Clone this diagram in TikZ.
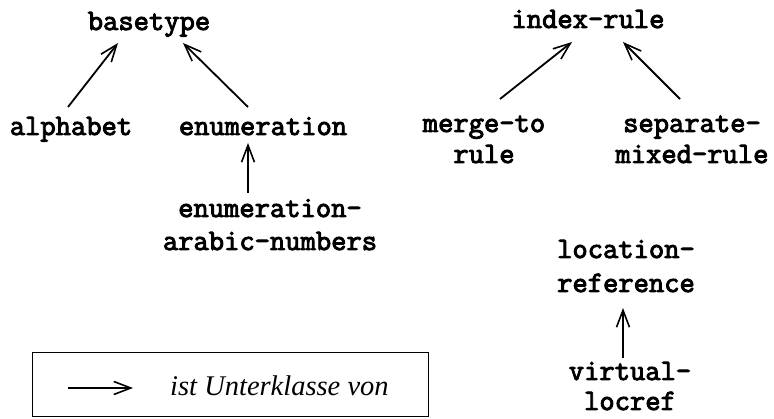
\documentclass[tikz,border=0pt]{standalone}
\usepackage{fontspec}
\setmainfont{Liberation Serif}
\setmonofont{Latin Modern Mono}[AutoFakeBold=3.2]
\usetikzlibrary{arrows.meta}

% class names: bold typewriter; two-line names as top-aligned tabulars
\newcommand{\cls}[2][32]{\fontsize{29.7}{#1}\selectfont\ttfamily\bfseries
  \begin{tabular}[t]{@{}c@{}}#2\end{tabular}}

\begin{document}
\begin{tikzpicture}[x=1pt,y=1pt,
  classname/.style={inner sep=0pt,anchor=base},
  isa/.style={line width=1.8pt,
    -{Straight Barb[length=17pt,width=13pt,line width=1.6pt]}},
  legendbox/.style={draw,line width=1.1pt}]
\useasboundingbox (0,0) rectangle (774,418);

% left hierarchy
\node[classname] (basetype)    at (149,388) {\cls{basetype}};
\node[classname] (alphabet)    at (71,283)  {\cls{alphabet}};
\node[classname] (enumeration) at (263,283) {\cls{enumeration}};
\node[classname] (enumarabic)  at (270,201) {\cls[33]{enumeration-\\arabic-numbers}};

% right hierarchy
\node[classname] (indexrule)   at (588,390) {\cls{index-rule}};
\node[classname] (mergeto)     at (484,286) {\cls[31]{merge-to\\rule}};
\node[classname] (separate)    at (692,286) {\cls[31]{separate-\\mixed-rule}};

\node[classname] (locref)      at (626,160) {\cls[34]{location-\\reference}};
\node[classname] (virtual)     at (630,38)  {\cls[30]{virtual-\\locref}};

% subclass arrows
\draw[isa] ([shift={(-3,28)}]alphabet.base)     -- ([shift={(-31,-13)}]basetype.base);
\draw[isa] ([shift={(-15,28)}]enumeration.base) -- ([shift={(34,-13)}]basetype.base);
\draw[isa] ([shift={(-22,24)}]enumarabic.base)  -- ([shift={(-15,-8)}]enumeration.base);
\draw[isa] ([shift={(16,33)}]mergeto.base)      -- ([shift={(-16,-14)}]indexrule.base);
\draw[isa] ([shift={(-12,33)}]separate.base)    -- ([shift={(35,-14)}]indexrule.base);
\draw[isa] ([shift={(-7,22)}]virtual.base)      -- ([shift={(-3,-50)}]locref.base);

% legend
\node[legendbox,minimum width=396pt,minimum height=64pt,anchor=south west,inner sep=0pt]
  (legend) at (32,1) {};
\coordinate (legarrowstart) at (68,30);
\coordinate (legarrowend)   at (133,30);
\draw[isa] (legarrowstart) -- (legarrowend);
\node[inner sep=0pt,anchor=base west] (legendtext) at (170,23)
  {\fontsize{28.5}{34}\selectfont\itshape ist Unterklasse von};
\end{tikzpicture}
\end{document}
